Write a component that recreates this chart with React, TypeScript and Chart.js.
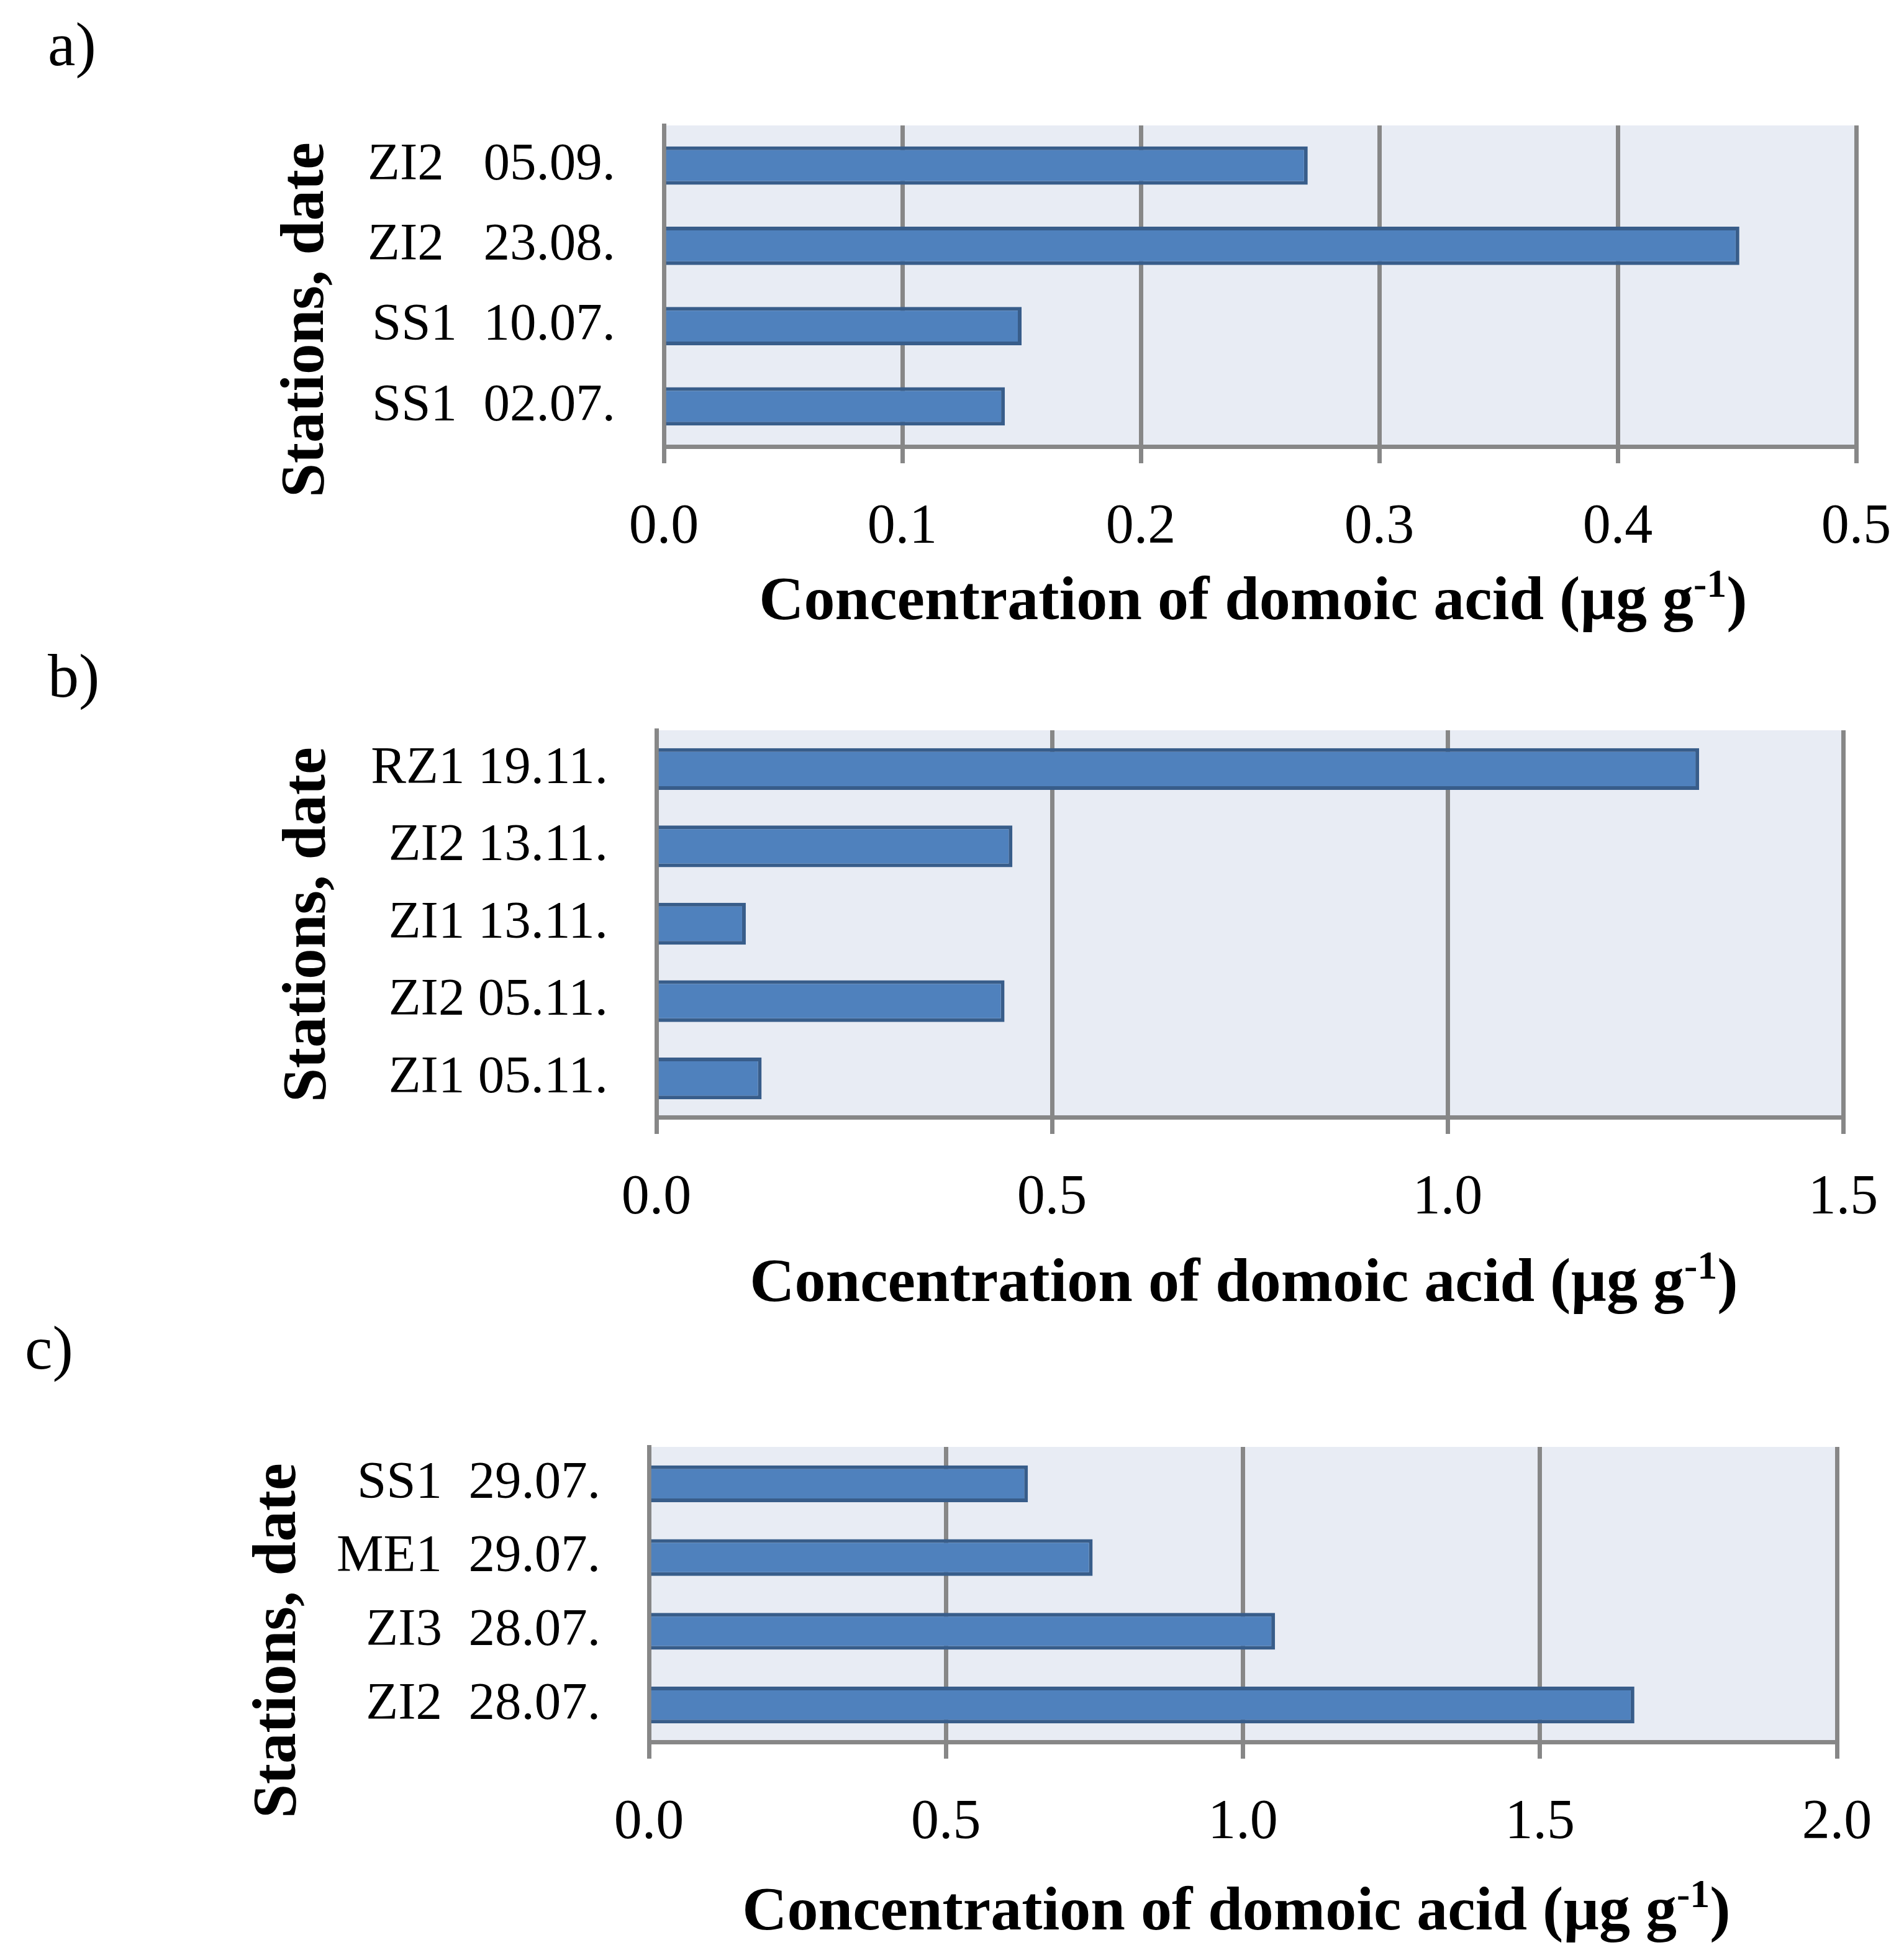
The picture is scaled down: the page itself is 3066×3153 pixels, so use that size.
import React, { useEffect, useRef } from 'react';
import { Chart, registerables } from 'chart.js';

Chart.register(...registerables);

// ---------------- data ----------------
const categoriesA = ['ZI2   05.09.', 'ZI2   23.08.', 'SS1  10.07.', 'SS1  02.07.'];
const valuesA = [0.27, 0.451, 0.15, 0.143];
const ticksA = [0, 0.1, 0.2, 0.3, 0.4, 0.5];

const categoriesB = ['RZ1 19.11.', 'ZI2 13.11.', 'ZI1 13.11.', 'ZI2 05.11.', 'ZI1 05.11.'];
const valuesB = [1.318, 0.45, 0.113, 0.44, 0.133];
const ticksB = [0, 0.5, 1.0, 1.5];

const categoriesC = ['SS1  29.07.', 'ME1  29.07.', 'ZI3  28.07.', 'ZI2  28.07.'];
const valuesC = [0.638, 0.747, 1.054, 1.659];
const ticksC = [0, 0.5, 1.0, 1.5, 2.0];

const panelLetters = ['a)', 'b)', 'c)'];
const xTitleMain = 'Concentration of domoic acid (\u00B5g g';
const xTitleSup = '-1';
const xTitleEnd = ')';
const yTitle = 'Stations, date';

// ---------------- style / layout ----------------
const SERIF = "'Liberation Serif', 'Times New Roman', serif";
const GRID = '#878787';
const PLOT_BG = '#E8ECF4';
const BAR_FILL = '#4F81BD';
const BAR_BORDER = '#385D8A';
const PAGE_W = 3066;

type Panel = {
  letter: string;
  labels: string[];
  values: number[];
  ticks: number[];
  top: number;
  height: number;
  plot: { left: number; right: number; top: number; bottom: number };
  bar: number;
  letterPos: { x: number; y: number };
  yTitlePos: { x: number; y: number };
  xTitlePos: { x: number; y: number };
};

const panels: Panel[] = [
  {
    letter: panelLetters[0], labels: categoriesA, values: valuesA, ticks: ticksA,
    top: 0, height: 1030,
    plot: { left: 1069, right: 2989, top: 202, bottom: 719 },
    bar: 0.477,
    letterPos: { x: 77, y: 105 },
    yTitlePos: { x: 520, y: 515 },
    xTitlePos: { x: 2018, y: 997 },
  },
  {
    letter: panelLetters[1], labels: categoriesB, values: valuesB, ticks: ticksB,
    top: 1030, height: 1090,
    plot: { left: 1057, right: 2968, top: 1176, bottom: 1799 },
    bar: 0.54,
    letterPos: { x: 77, y: 1122 },
    yTitlePos: { x: 523, y: 1489 },
    xTitlePos: { x: 2003, y: 2095 },
  },
  {
    letter: panelLetters[2], labels: categoriesC, values: valuesC, ticks: ticksC,
    top: 2120, height: 1033,
    plot: { left: 1045, right: 2958, top: 2330, bottom: 2805 },
    bar: 0.5,
    letterPos: { x: 40, y: 2204 },
    yTitlePos: { x: 475, y: 2642 },
    xTitlePos: { x: 1991, y: 3107 },
  },
];

function makeDecor(p: Panel) {
  return {
    id: 'decor',
    beforeDraw(chart: any) {
      const { ctx, chartArea } = chart;
      ctx.save();
      ctx.fillStyle = PLOT_BG;
      ctx.fillRect(chartArea.left, chartArea.top, chartArea.right - chartArea.left, chartArea.bottom - chartArea.top);
      ctx.restore();
    },
    afterDraw(chart: any) {
      const { ctx } = chart;
      const off = p.top;
      ctx.save();
      ctx.fillStyle = '#000';
      // panel letter
      ctx.font = `100px ${SERIF}`;
      ctx.textAlign = 'left';
      ctx.textBaseline = 'alphabetic';
      ctx.fillText(p.letter, p.letterPos.x, p.letterPos.y - off);
      // y title
      ctx.save();
      ctx.translate(p.yTitlePos.x, p.yTitlePos.y - off);
      ctx.rotate(-Math.PI / 2);
      ctx.font = `bold 99px ${SERIF}`;
      ctx.textAlign = 'center';
      ctx.fillText(yTitle, 0, 0);
      ctx.restore();
      // x title with superscript
      const mainFont = `bold 100px ${SERIF}`;
      const supFont = `bold 64px ${SERIF}`;
      ctx.font = mainFont;
      const w1 = ctx.measureText(xTitleMain).width;
      const w3 = ctx.measureText(xTitleEnd).width;
      ctx.font = supFont;
      const w2 = ctx.measureText(xTitleSup).width;
      let x = p.xTitlePos.x - (w1 + w2 + w3) / 2;
      const base = p.xTitlePos.y - off;
      ctx.textAlign = 'left';
      ctx.font = mainFont;
      ctx.fillText(xTitleMain, x, base);
      x += w1;
      ctx.font = supFont;
      ctx.fillText(xTitleSup, x, base - 36);
      x += w2;
      ctx.font = mainFont;
      ctx.fillText(xTitleEnd, x, base);
      ctx.restore();
    },
  };
}

function PanelChart({ p }: { p: Panel }) {
  const ref = useRef<HTMLCanvasElement | null>(null);
  useEffect(() => {
    if (!ref.current) return;
    const chart = new Chart(ref.current, {
      type: 'bar',
      data: {
        labels: p.labels,
        datasets: [
          {
            data: p.values,
            backgroundColor: BAR_FILL,
            borderColor: BAR_BORDER,
            borderWidth: 6,
            borderSkipped: 'start',
            barPercentage: p.bar,
            categoryPercentage: 1,
          },
        ],
      },
      options: {
        indexAxis: 'y',
        responsive: false,
        animation: false,
        devicePixelRatio: 1,
        layout: {
          padding: { left: 0, top: p.plot.top - p.top, right: PAGE_W - p.plot.right, bottom: 0 },
        },
        plugins: {
          legend: { display: false },
          tooltip: { enabled: false },
          title: { display: false },
        },
        scales: {
          x: {
            type: 'linear',
            position: 'bottom',
            min: p.ticks[0],
            max: p.ticks[p.ticks.length - 1],
            afterBuildTicks: (s: any) => {
              s.ticks = p.ticks.map((v) => ({ value: v }));
            },
            afterFit: (s: any) => {
              s.height = p.height - (p.plot.bottom - p.top);
              s.paddingLeft = 0;
              s.paddingRight = 0;
            },
            grid: {
              color: GRID,
              lineWidth: 7,
              drawTicks: true,
              tickLength: 27,
              tickColor: GRID,
              tickWidth: 7,
            },
            border: { display: true, color: GRID, width: 7 },
            ticks: {
              font: { family: SERIF, size: 90 },
              color: '#000',
              padding: 50,
              maxRotation: 0,
              autoSkip: false,
              callback: (v: any) => Number(v).toFixed(1),
            },
          },
          y: {
            type: 'category',
            position: 'left',
            grid: { display: false, drawTicks: false },
            border: { display: true, color: GRID, width: 7 },
            afterFit: (s: any) => {
              s.width = p.plot.left;
              s.paddingTop = 0;
              s.paddingBottom = 0;
            },
            ticks: {
              font: { family: SERIF, size: 85 },
              color: '#000',
              padding: 78,
              autoSkip: false,
            },
          },
        },
      },
      plugins: [makeDecor(p)],
    } as any);
    return () => chart.destroy();
  }, [p]);
  return (
    <canvas
      ref={ref}
      width={PAGE_W}
      height={p.height}
      style={{ position: 'absolute', left: 0, top: p.top, width: PAGE_W, height: p.height, display: 'block' }}
    />
  );
}

export default function App() {
  return (
    <div style={{ position: 'absolute', left: 0, top: 0, width: PAGE_W, height: 3153, background: '#fff' }}>
      {panels.map((p, i) => (
        <PanelChart key={i} p={p} />
      ))}
    </div>
  );
}
